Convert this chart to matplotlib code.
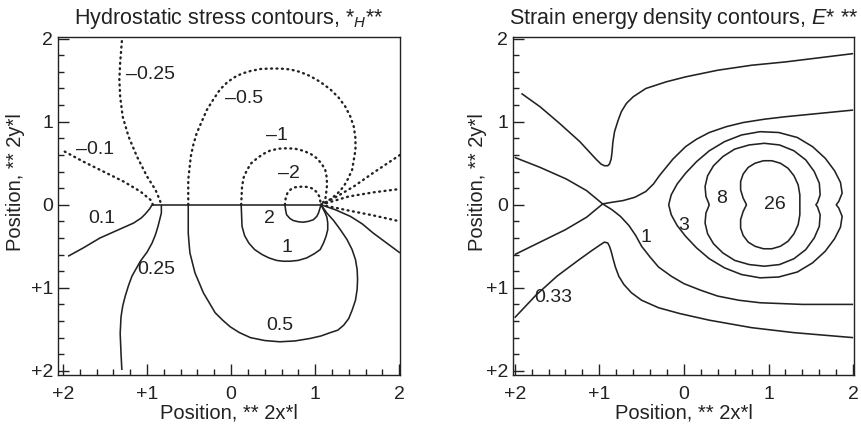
import matplotlib
matplotlib.use("Agg")
import matplotlib.pyplot as plt
from matplotlib.ticker import MultipleLocator, FixedLocator, FixedFormatter

plt.rcParams['font.family'] = ['Liberation Sans', 'DejaVu Sans']
plt.rcParams['mathtext.fontset'] = 'custom'
plt.rcParams['mathtext.rm'] = 'Liberation Sans'
plt.rcParams['mathtext.it'] = 'Liberation Sans:italic'

# ---------------- hydrostatic stress contour lines (2x/l, 2y/l) ----------------
hyd_surface = [(-0.94, 0.0), (1.07, 0.0)]

hyd_neg_0p1 = [(-1.98, 0.64), (-1.76, 0.52), (-1.52, 0.40), (-1.28, 0.28),
               (-1.08, 0.16), (-0.96, 0.06), (-0.93, 0.0)]
hyd_neg_0p25 = [(-1.30, 1.97), (-1.32, 1.71), (-1.33, 1.51), (-1.32, 1.30),
                (-1.29, 1.06), (-1.22, 0.82), (-1.12, 0.58), (-1.00, 0.34),
                (-0.90, 0.18), (-0.85, 0.06), (-0.83, 0.0)]
hyd_neg_0p5 = [(-0.51, 0.0), (-0.51, 0.30), (-0.48, 0.58), (-0.45, 0.72), (-0.41, 0.86),
               (-0.29, 1.14), (-0.21, 1.27), (-0.13, 1.39), (-0.05, 1.47), (0.03, 1.53),
               (0.13, 1.58), (0.23, 1.61), (0.35, 1.635), (0.46, 1.64), (0.58, 1.64),
               (0.70, 1.63), (0.82, 1.60), (0.94, 1.55), (1.06, 1.48), (1.18, 1.39),
               (1.28, 1.29), (1.36, 1.18), (1.42, 1.06), (1.46, 0.94), (1.48, 0.80),
               (1.48, 0.66), (1.46, 0.54), (1.44, 0.42), (1.39, 0.31), (1.34, 0.22),
               (1.27, 0.14), (1.20, 0.08), (1.13, 0.03), (1.07, 0.0)]
hyd_neg_1 = [(0.12, 0.0), (0.13, 0.22), (0.15, 0.33), (0.19, 0.42), (0.24, 0.50),
             (0.31, 0.56), (0.38, 0.61), (0.46, 0.65), (0.56, 0.675), (0.66, 0.68),
             (0.76, 0.675), (0.86, 0.65), (0.95, 0.61), (1.02, 0.56), (1.08, 0.49),
             (1.12, 0.42), (1.14, 0.32), (1.14, 0.22), (1.13, 0.13), (1.12, 0.06),
             (1.07, 0.0)]
hyd_neg_2 = [(0.64, 0.0), (0.65, 0.08), (0.67, 0.14), (0.71, 0.185), (0.76, 0.21),
             (0.86, 0.22), (0.93, 0.21), (0.98, 0.19), (1.02, 0.15), (1.05, 0.10),
             (1.07, 0.0)]
hyd_fan_a = [(1.07, 0.0), (1.26, 0.10), (1.46, 0.22), (1.70, 0.39), (2.01, 0.60)]
hyd_fan_b = [(1.07, 0.0), (1.40, 0.10), (1.70, 0.15), (2.01, 0.19)]
hyd_fan_c = [(1.07, 0.0), (1.40, -0.07), (1.70, -0.13), (2.01, -0.20)]

hyd_pos_0p1 = [(-1.94, -0.62), (-1.76, -0.52), (-1.56, -0.40), (-1.36, -0.31),
               (-1.16, -0.22), (-1.07, -0.16), (-1.02, -0.11), (-0.97, -0.05),
               (-0.94, 0.0)]
hyd_pos_0p25 = [(-0.83, 0.0), (-0.83, -0.10), (-0.85, -0.18), (-0.87, -0.26),
                (-0.90, -0.36), (-0.94, -0.46), (-1.00, -0.57), (-1.08, -0.68),
                (-1.13, -0.77), (-1.18, -0.86), (-1.22, -0.97), (-1.26, -1.10),
                (-1.29, -1.22), (-1.31, -1.35), (-1.32, -1.55), (-1.31, -1.79),
                (-1.30, -1.99)]
hyd_pos_0p5 = [(-0.51, 0.0), (-0.51, -0.34), (-0.50, -0.47), (-0.49, -0.58),
               (-0.46, -0.70), (-0.43, -0.82), (-0.38, -0.94), (-0.33, -1.06),
               (-0.26, -1.18), (-0.19, -1.30), (-0.10, -1.39), (-0.01, -1.47),
               (0.10, -1.54), (0.23, -1.60), (0.40, -1.635), (0.58, -1.65),
               (0.76, -1.64), (0.94, -1.61), (1.07, -1.58), (1.18, -1.54),
               (1.27, -1.51), (1.34, -1.45), (1.40, -1.37), (1.44, -1.27),
               (1.48, -1.15), (1.50, -1.02), (1.505, -0.90), (1.50, -0.78),
               (1.48, -0.66), (1.44, -0.54), (1.38, -0.42), (1.30, -0.30),
               (1.22, -0.19), (1.14, -0.10), (1.07, 0.0)]
hyd_pos_1 = [(0.12, 0.0), (0.13, -0.26), (0.16, -0.37), (0.21, -0.46), (0.28, -0.54),
             (0.37, -0.60), (0.45, -0.64), (0.54, -0.67), (0.62, -0.68), (0.70, -0.68),
             (0.80, -0.67), (0.90, -0.64), (0.99, -0.59), (1.06, -0.54), (1.10, -0.46),
             (1.13, -0.38), (1.15, -0.30), (1.15, -0.22), (1.14, -0.15), (1.12, -0.10),
             (1.07, 0.0)]
hyd_pos_2 = [(0.64, 0.0), (0.65, -0.07), (0.66, -0.12), (0.70, -0.165), (0.74, -0.19),
             (0.80, -0.205), (0.86, -0.21), (0.92, -0.20), (0.98, -0.18), (1.02, -0.14),
             (1.04, -0.10), (1.07, 0.0)]
hyd_pos_edge = [(1.07, 0.0), (1.24, -0.06), (1.42, -0.14), (1.56, -0.23), (1.69, -0.34),
                (1.85, -0.46), (2.01, -0.58)]

hyd_solid = [hyd_surface, hyd_pos_0p1, hyd_pos_0p25, hyd_pos_0p5, hyd_pos_1,
             hyd_pos_2, hyd_pos_edge]
hyd_dotted = [hyd_neg_0p1, hyd_neg_0p25, hyd_neg_0p5, hyd_neg_1, hyd_neg_2,
              hyd_fan_a, hyd_fan_b, hyd_fan_c]

hyd_labels = ["\u20130.25", "\u20130.1", "\u20130.5", "\u20131", "\u20132",
              "0.1", "0.25", "2", "1", "0.5"]
hyd_label_xy = [(-0.96, 1.57), (-1.62, 0.66), (0.15, 1.28), (0.55, 0.83), (0.69, 0.38),
                (-1.54, -0.16), (-0.89, -0.78), (0.46, -0.16), (0.67, -0.51), (0.58, -1.45)]

# ---------------- strain energy density contour lines ----------------
sed_upper_0p33 = [(-1.92, 1.34), (-1.70, 1.18), (-1.47, 0.98), (-1.23, 0.76),
                  (-1.04, 0.55), (-0.98, 0.49), (-0.94, 0.47), (-0.90, 0.47),
                  (-0.88, 0.49), (-0.86, 0.55), (-0.85, 0.63), (-0.84, 0.75),
                  (-0.82, 0.88), (-0.78, 1.01), (-0.74, 1.12), (-0.68, 1.22),
                  (-0.60, 1.30), (-0.45, 1.40), (-0.21, 1.48), (0.02, 1.54),
                  (0.40, 1.62), (0.80, 1.68), (1.20, 1.72), (1.60, 1.77), (2.00, 1.82)]
sed_lower_0p33 = [(-2.00, -1.36), (-1.75, -1.09), (-1.50, -0.86), (-1.25, -0.67),
                  (-1.10, -0.56), (-1.00, -0.49), (-0.94, -0.45), (-0.90, -0.46),
                  (-0.88, -0.50), (-0.86, -0.56), (-0.84, -0.64), (-0.81, -0.75),
                  (-0.77, -0.86), (-0.71, -0.96), (-0.62, -1.06), (-0.50, -1.15),
                  (-0.30, -1.24), (-0.05, -1.31), (0.30, -1.39), (0.80, -1.48),
                  (1.30, -1.54), (2.00, -1.60)]
sed_1_down = [(-2.00, 0.57), (-1.70, 0.45), (-1.39, 0.31), (-1.15, 0.17),
              (-0.96, 0.01), (-0.85, -0.06), (-0.75, -0.14), (-0.65, -0.25),
              (-0.57, -0.37), (-0.50, -0.50), (-0.40, -0.63), (-0.30, -0.75),
              (-0.15, -0.86), (0.00, -0.95), (0.20, -1.03), (0.40, -1.10),
              (0.65, -1.15), (0.90, -1.18), (1.40, -1.20), (2.00, -1.20)]
sed_1_up = [(-2.00, -0.60), (-1.70, -0.45), (-1.40, -0.30), (-1.15, -0.15),
            (-0.96, 0.01), (-0.85, 0.03), (-0.72, 0.05), (-0.58, 0.09),
            (-0.45, 0.16), (-0.36, 0.25), (-0.29, 0.35), (-0.21, 0.45),
            (-0.13, 0.55), (-0.05, 0.63), (0.02, 0.70), (0.15, 0.79), (0.30, 0.87),
            (0.50, 0.94), (0.70, 0.99), (0.95, 1.03), (1.20, 1.06), (1.60, 1.10),
            (2.00, 1.14)]
sed_3_half = [(-0.18, 0.00), (-0.15, 0.12), (-0.08, 0.25), (0.02, 0.38), (0.15, 0.52),
              (0.30, 0.65), (0.48, 0.76), (0.68, 0.84), (0.90, 0.88), (1.12, 0.87),
              (1.34, 0.81), (1.52, 0.70), (1.67, 0.56), (1.78, 0.41), (1.85, 0.27),
              (1.87, 0.14), (1.83, 0.04), (1.80, 0.00)]
sed_8_half = [(0.30, 0.00), (0.26, 0.10), (0.25, 0.22), (0.28, 0.35), (0.35, 0.47),
              (0.46, 0.58), (0.60, 0.67), (0.77, 0.72), (0.95, 0.74), (1.13, 0.72),
              (1.30, 0.65), (1.44, 0.54), (1.54, 0.40), (1.60, 0.26), (1.61, 0.12),
              (1.58, 0.03), (1.56, 0.00)]
sed_26_half = [(0.74, 0.00), (0.70, 0.08), (0.67, 0.18), (0.67, 0.28), (0.70, 0.37),
               (0.76, 0.45), (0.84, 0.50), (0.94, 0.53), (1.04, 0.53), (1.14, 0.50),
               (1.23, 0.44), (1.30, 0.35), (1.35, 0.24), (1.37, 0.12), (1.37, 0.00)]

sed_open = [sed_upper_0p33, sed_lower_0p33, sed_1_down, sed_1_up]
sed_loops = [sed_3_half, sed_8_half, sed_26_half]   # upper halves, mirrored about y = 0
sed_labels = ["0.33", "1", "3", "8", "26"]
sed_label_xy = [(-1.55, -1.12), (-0.45, -0.40), (0.00, -0.25), (0.45, 0.07), (1.08, 0.00)]

tick_values = [-2, -1, 0, 1, 2]
tick_text = ["+2", "+1", "0", "1", "2"]
y_tick_text = ["+2", "+1", "0", "1", "2"]

FS = 14
INK = '#222222'
W, H = 862, 430
fig = plt.figure(figsize=(W / 100, H / 100), dpi=100)
ax1 = fig.add_axes([58 / W, 1 - 375 / H, 342 / W, 338 / H])
ax2 = fig.add_axes([513 / W, 1 - 375 / H, 341 / W, 338 / H])


def style_axes(ax, xlim, ylim):
    ax.set_xlim(*xlim)
    ax.set_ylim(*ylim)
    for side in ax.spines.values():
        side.set_linewidth(1.0)
        side.set_color(INK)
    ax.xaxis.set_major_locator(FixedLocator(tick_values))
    ax.xaxis.set_major_formatter(FixedFormatter(tick_text))
    ax.yaxis.set_major_locator(FixedLocator(tick_values))
    ax.yaxis.set_major_formatter(FixedFormatter(y_tick_text))
    ax.xaxis.set_minor_locator(MultipleLocator(0.2))
    ax.yaxis.set_minor_locator(MultipleLocator(0.2))
    ax.tick_params(which='both', direction='in', top=False, right=False,
                   width=1.0, color=INK, labelsize=FS, labelcolor=INK)
    ax.tick_params(which='major', length=8)
    ax.tick_params(which='minor', length=4.6)
    ax.tick_params(axis='x', which='major', pad=8)
    ax.tick_params(axis='y', which='major', pad=3.5)


def draw(ax, xs, ys, dotted=False):
    if dotted:
        ax.plot(xs, ys, color=INK, lw=1.7, linestyle=(0, (0.4, 1.9)),
                dash_capstyle='round', solid_joinstyle='round')
    else:
        ax.plot(xs, ys, color=INK, lw=1.15, solid_joinstyle='round',
                solid_capstyle='butt')


def draw_pts(ax, pts, dotted=False):
    draw(ax, [p[0] for p in pts], [p[1] for p in pts], dotted)


def draw_loop(ax, half):
    # closed contour symmetric about the surface line
    xs = [p[0] for p in half] + [p[0] for p in reversed(half[:-1])]
    ys = [p[1] for p in half] + [-p[1] for p in reversed(half[:-1])]
    draw(ax, xs, ys)


style_axes(ax1, (-2.06, 2.01), (-2.05, 2.02))
style_axes(ax2, (-2.02, 2.01), (-2.05, 2.02))

for line in hyd_solid:
    draw_pts(ax1, line)
for line in hyd_dotted:
    draw_pts(ax1, line, dotted=True)
for txt, (lx, ly) in zip(hyd_labels, hyd_label_xy):
    ax1.text(lx, ly, txt, ha='center', va='center', fontsize=FS, color=INK)

for line in sed_open:
    draw_pts(ax2, line)
for half in sed_loops:
    draw_loop(ax2, half)
for txt, (lx, ly) in zip(sed_labels, sed_label_xy):
    ax2.text(lx, ly, txt, ha='center', va='center', fontsize=FS, color=INK)

ax1.text(0.5, 1.0385, "Hydrostatic stress contours, *$_{H}$**", transform=ax1.transAxes,
         ha='center', va='baseline', fontsize=15.5, color=INK)
ax2.text(0.5, 1.0385, "Strain energy density contours, $E$* **", transform=ax2.transAxes,
         ha='center', va='baseline', fontsize=15.5, color=INK)

for ax, ylx in ((ax1, -0.096), (ax2, -0.076)):
    ax.set_xlabel("Position, ** 2x*l", fontsize=14.5, color=INK)
    ax.xaxis.set_label_coords(0.5, -0.083)
    ax.set_ylabel("Position, ** 2y*l", fontsize=14.5, color=INK)
    ax.yaxis.set_label_coords(ylx, 0.571)

fig.savefig("out.png", dpi=100)
